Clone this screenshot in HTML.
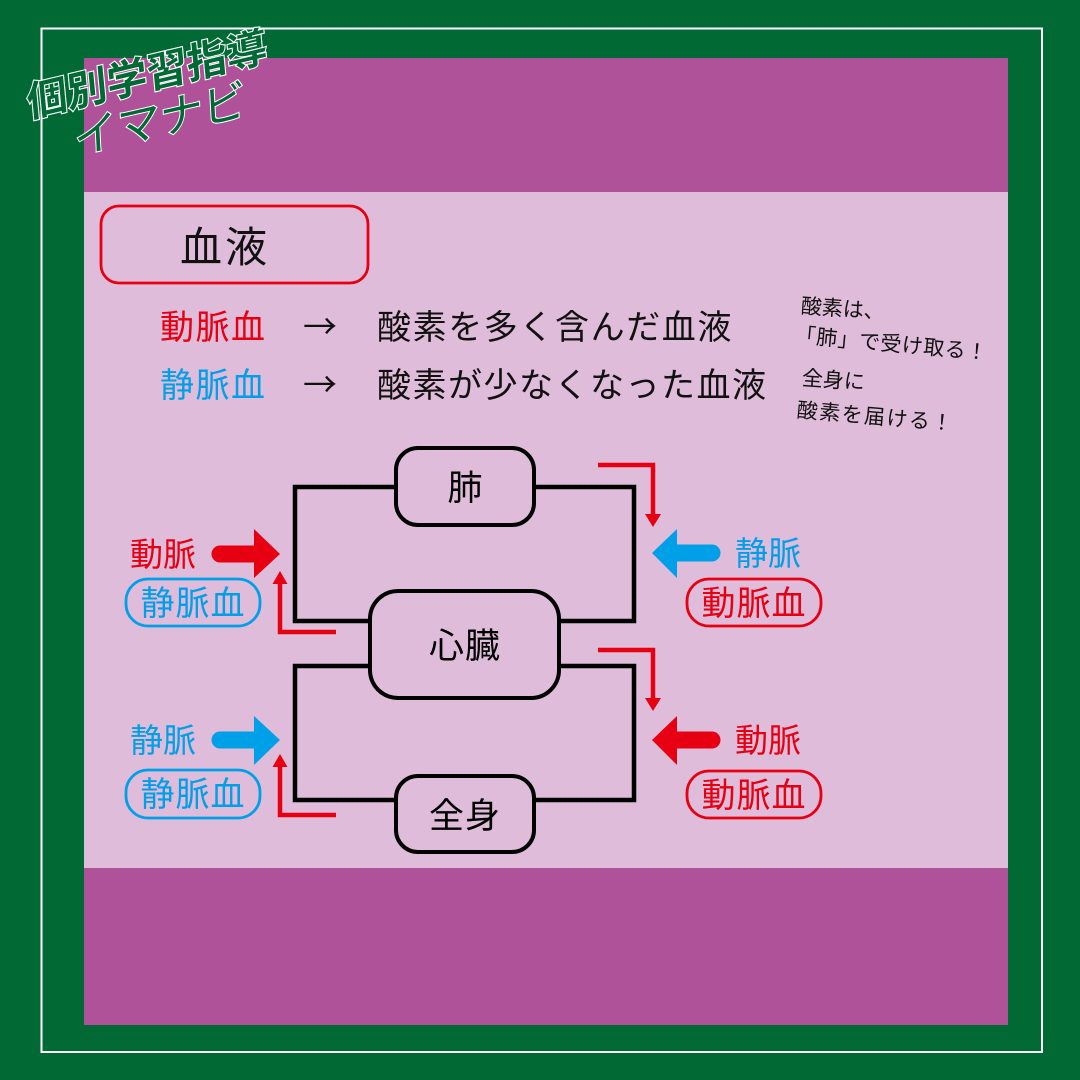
<!DOCTYPE html>
<html><head><meta charset="utf-8"><style>
html,body{margin:0;padding:0;background:#006934;}
svg{display:block;}
text{font-family:"Liberation Sans","Noto Sans CJK JP",sans-serif;}
.cjk{font-family:"Noto Sans CJK JP",sans-serif;}
</style></head><body>
<svg width="1080" height="1080" viewBox="0 0 1080 1080" xmlns="http://www.w3.org/2000/svg">
<rect x="0" y="0" width="1080" height="1080" fill="#006934"/>
<rect x="41.5" y="28.5" width="1000.5" height="1023.5" fill="none" stroke="#ffffff" stroke-width="2"/>
<rect x="84" y="58" width="924" height="967" fill="#b0529a"/>
<rect x="84" y="192" width="924" height="676" fill="#dfbcd9"/>

<!-- logo -->
<g transform="translate(147 75) rotate(-13.4) skewX(-8) translate(-147 -75)">
<text x="147" y="89" font-size="41" font-weight="bold" text-anchor="middle" fill="#006934" stroke="#ffffff" stroke-width="2.2" paint-order="stroke" textLength="246" lengthAdjust="spacingAndGlyphs">個別学習指導</text>
</g>
<g transform="translate(160 120) rotate(-13) skewX(-10) translate(-160 -120)">
<text x="160" y="135" font-size="44" text-anchor="middle" fill="#006934" stroke="#ffffff" stroke-width="2" paint-order="stroke" textLength="176" lengthAdjust="spacingAndGlyphs">イマナビ</text>
</g>

<!-- title -->
<rect x="101" y="206" width="267" height="77" rx="18" fill="none" stroke="#e60012" stroke-width="2.8"/>
<text x="225" y="262" font-size="42" text-anchor="middle" letter-spacing="3" fill="#111">血液</text>

<!-- definitions -->
<text x="160" y="339" font-size="34" fill="#e60012" letter-spacing="1.5">動脈血</text>
<text class="cjk" x="303" y="339" font-size="34" fill="#111">→</text>
<text x="377" y="339" font-size="34" fill="#111" letter-spacing="1.6">酸素を多く含んだ血液</text>
<text x="160" y="397" font-size="34" fill="#00a0e9" letter-spacing="1.5">静脈血</text>
<text class="cjk" x="303" y="397" font-size="34" fill="#111">→</text>
<text x="377" y="397" font-size="34" fill="#111" letter-spacing="1.5">酸素が少なくなった血液</text>

<!-- notes -->
<text x="801" y="313" font-size="21" fill="#111" transform="rotate(4 801 305)">酸素は、</text>
<text x="795" y="342" font-size="21" fill="#111" letter-spacing="0.5" transform="rotate(5.3 795 334)">「肺」で受け取る！</text>
<text x="802" y="385" font-size="21" fill="#111" transform="rotate(4 802 377)">全身に</text>
<text x="797" y="417" font-size="21" fill="#111" letter-spacing="1.5" transform="rotate(5 797 409)">酸素を届ける！</text>

<!-- black loop lines -->
<g fill="none" stroke="#000" stroke-width="4.5" stroke-linejoin="miter">
<path d="M400,487 H295 V621 H375"/>
<path d="M530,487 H634 V621 H555"/>
<path d="M375,666 H295 V800 H400"/>
<path d="M555,666 H634 V800 H530"/>
</g>
<!-- boxes -->
<g fill="#dfbcd9" stroke="#000" stroke-width="4">
<rect x="396" y="448" width="138" height="77" rx="22"/>
<rect x="370" y="591" width="189" height="107" rx="28"/>
<rect x="396" y="776" width="138" height="76" rx="22"/>
</g>
<text x="465" y="500" font-size="35" text-anchor="middle" fill="#000">肺</text>
<text x="465" y="658" font-size="35" text-anchor="middle" fill="#000" letter-spacing="1">心臓</text>
<text x="465" y="828" font-size="35" text-anchor="middle" fill="#000" letter-spacing="1">全身</text>

<!-- small red flow arrows -->
<g fill="none" stroke="#e60012" stroke-width="4.5">
<path d="M336,632 H280 V582"/>
<path d="M336,815 H280 V765"/>
<path d="M598,465 H653 V516"/>
<path d="M598,650 H653 V700"/>
</g>
<g fill="#e60012">
<polygon points="272.5,584 287.5,584 280,571"/>
<polygon points="272.5,767 287.5,767 280,754"/>
<polygon points="645,514 661,514 653,527"/>
<polygon points="645,698 661,698 653,711"/>
</g>

<!-- big arrows -->
<line x1="220" y1="554" x2="258" y2="554" stroke="#e60012" stroke-width="17" stroke-linecap="round"/>
<polygon points="254,529 254,578 280,554" fill="#e60012"/>
<line x1="220" y1="740" x2="258" y2="740" stroke="#00a0e9" stroke-width="17" stroke-linecap="round"/>
<polygon points="254,716 254,765 280,740" fill="#00a0e9"/>
<line x1="674" y1="553" x2="712" y2="553" stroke="#00a0e9" stroke-width="17" stroke-linecap="round"/>
<polygon points="677,529 677,578 652,553" fill="#00a0e9"/>
<line x1="674" y1="740" x2="712" y2="740" stroke="#e60012" stroke-width="17" stroke-linecap="round"/>
<polygon points="677,716 677,765 652,740" fill="#e60012"/>

<!-- side labels -->
<text x="130" y="566" font-size="33" fill="#e60012">動脈</text>
<rect x="126" y="579" width="134" height="47" rx="22" fill="none" stroke="#00a0e9" stroke-width="2.8"/>
<text x="193" y="615" font-size="34" text-anchor="middle" fill="#00a0e9" letter-spacing="1">静脈血</text>

<text x="130" y="752" font-size="33" fill="#00a0e9">静脈</text>
<rect x="126" y="770" width="134" height="48" rx="22" fill="none" stroke="#00a0e9" stroke-width="2.8"/>
<text x="193" y="806" font-size="34" text-anchor="middle" fill="#00a0e9" letter-spacing="1">静脈血</text>

<text x="735" y="565" font-size="33" fill="#00a0e9">静脈</text>
<rect x="687" y="579" width="134" height="47" rx="22" fill="none" stroke="#e60012" stroke-width="2.8"/>
<text x="754" y="615" font-size="34" text-anchor="middle" fill="#e60012" letter-spacing="1">動脈血</text>

<text x="735" y="752" font-size="33" fill="#e60012">動脈</text>
<rect x="687" y="771" width="134" height="47" rx="22" fill="none" stroke="#e60012" stroke-width="2.8"/>
<text x="754" y="807" font-size="34" text-anchor="middle" fill="#e60012" letter-spacing="1">動脈血</text>
</svg>
</body></html>
